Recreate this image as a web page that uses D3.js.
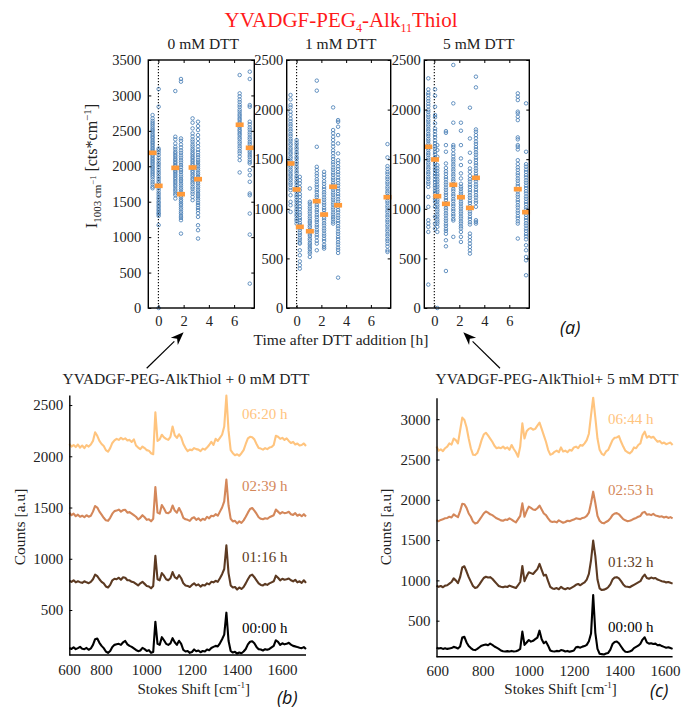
<!DOCTYPE html>
<html>
<head>
<meta charset="utf-8">
<script src="https://cdn.jsdelivr.net/npm/d3@7"></script>
<style>
  body { margin: 0; background: #fff; }
  svg { display: block; }
  text { font-family: 'Liberation Serif', 'Times New Roman', serif; }
</style>
</head>
<body>
<svg id="fig" width="684" height="711"></svg>
<script>
// ---------- panel (a): I(1003 cm^-1) versus time after DTT addition ----------
const dttLabels = ["0 mM DTT", "1 mM DTT", "5 mM DTT"];
const timeTicks = [0, 2, 4, 6];
const yTicks0 = [0, 500, 1000, 1500, 2000, 2500, 3000, 3500];
const yTicks12 = [0, 500, 1000, 1500, 2000, 2500];

// 0 mM DTT: measurement times [h], group means, single-spectrum intensities
const times0 = [-0.46, 0.02, 1.34, 1.79, 2.71, 3.14, 6.44, 7.24];
const means0 = [2190, 1724, 1978, 1606, 1983, 1818, 2586, 2261];
const points0 = [
  [2723, 2676, 2640, 2612, 2588, 2561, 2533, 2510, 2490, 2462, 2438, 2415, 2396, 2368, 2345, 2326, 2302, 2280, 2255, 2236, 2214, 2190, 2166, 2147, 2121, 2100, 2078, 2056, 2035, 2010, 1986, 1967, 1941, 1918, 1895, 1870, 1845, 1812, 1778, 1747, 1712, 1690],
  [3090, 2841, 2250, 2226, 2195, 2162, 2121, 2086, 2050, 2021, 1985, 1952, 1917, 1886, 1851, 1822, 1788, 1760, 1724, 1693, 1661, 1627, 1598, 1564, 1537, 1503, 1480, 1450, 1426, 1396, 1372, 1344, 1327, 1300, 1170, 0],
  [3062, 2417, 2379, 2322, 2275, 2242, 2208, 2186, 2158, 2136, 2108, 2090, 2064, 2045, 2020, 2001, 1976, 1957, 1932, 1914, 1888, 1867, 1840, 1819, 1790, 1766, 1736, 1712, 1678, 1652, 1618, 1592, 1545],
  [3232, 3194, 2393, 2360, 2308, 2266, 2224, 2191, 2153, 2122, 2084, 2053, 2016, 1987, 1948, 1920, 1883, 1854, 1818, 1792, 1758, 1731, 1698, 1672, 1640, 1617, 1586, 1562, 1530, 1507, 1476, 1452, 1418, 1392, 1358, 1332, 1298, 1272, 1239, 1050],
  [2676, 2615, 2535, 2464, 2421, 2378, 2347, 2308, 2280, 2246, 2222, 2190, 2167, 2138, 2117, 2088, 2066, 2038, 2017, 1988, 1966, 1938, 1917, 1886, 1862, 1830, 1807, 1773, 1747, 1710, 1682, 1643, 1612, 1568, 1522],
  [2629, 2568, 2511, 2440, 2386, 2328, 2282, 2233, 2197, 2158, 2127, 2090, 2062, 2028, 2002, 1968, 1942, 1908, 1882, 1848, 1822, 1788, 1762, 1728, 1702, 1668, 1642, 1608, 1582, 1548, 1520, 1483, 1452, 1413, 1382, 1338, 1286, 1168, 1098, 980],
  [3288, 3029, 2987, 2943, 2907, 2868, 2837, 2798, 2770, 2736, 2710, 2678, 2654, 2623, 2600, 2570, 2548, 2518, 2496, 2466, 2442, 2408, 2382, 2348, 2320, 2283, 2252, 2213, 2182, 2138, 2087, 1913],
  [3335, 3232, 2864, 2840, 2629, 2592, 2548, 2517, 2478, 2447, 2408, 2380, 2343, 2314, 2278, 2252, 2218, 2192, 2158, 2130, 2093, 2062, 2040, 1946, 1875, 1781, 1616, 1592, 1333, 1036, 344]
];

// 1 mM DTT
const times1 = [-0.49, 0.0, 0.26, 1.07, 1.63, 2.22, 2.95, 3.35, 7.34];
const means1 = [1457, 1195, 818, 774, 1077, 942, 1222, 1036, 1117];
const points1 = [
  [2147, 2103, 2046, 2022, 1979, 1946, 1908, 1882, 1853, 1832, 1803, 1782, 1753, 1732, 1704, 1684, 1658, 1640, 1614, 1596, 1570, 1552, 1526, 1508, 1482, 1464, 1438, 1420, 1394, 1376, 1350, 1332, 1306, 1288, 1262, 1242, 1213, 1188, 1137, 1070, 1036, 969],
  [1693, 1668, 1647, 1618, 1598, 1570, 1550, 1522, 1502, 1474, 1454, 1426, 1406, 1378, 1358, 1330, 1310, 1282, 1262, 1234, 1214, 1186, 1166, 1138, 1118, 1090, 1070, 1042, 1022, 994, 974, 946, 926, 898, 878, 851],
  [1322, 1288, 1257, 1218, 1187, 1148, 1120, 1084, 1057, 1023, 997, 963, 940, 908, 887, 858, 837, 808, 787, 758, 737, 708, 688, 660, 649, 582, 532, 470, 431, 397],
  [1205, 1070, 1052, 1023, 1002, 973, 952, 923, 902, 876, 858, 832, 814, 788, 770, 744, 726, 700, 682, 656, 638, 612, 594, 568, 550, 515],
  [2292, 2191, 1625, 1423, 1392, 1358, 1332, 1298, 1274, 1243, 1220, 1190, 1168, 1138, 1117, 1088, 1067, 1038, 1017, 988, 967, 938, 917, 888, 867, 838, 817, 788, 767, 738, 714, 678, 649, 582],
  [1373, 1343, 1314, 1278, 1252, 1220, 1197, 1166, 1144, 1114, 1092, 1062, 1040, 1010, 988, 958, 936, 906, 884, 854, 832, 802, 780, 750, 728, 698, 674, 638, 616, 599],
  [2022, 1794, 1762, 1726, 1693, 1658, 1627, 1590, 1562, 1528, 1502, 1470, 1447, 1416, 1394, 1364, 1342, 1313, 1292, 1263, 1242, 1213, 1192, 1163, 1142, 1113, 1092, 1063, 1042, 1013, 992, 963, 942, 916, 895, 870, 851],
  [1894, 1877, 1827, 1743, 1659, 1558, 1490, 1462, 1428, 1402, 1370, 1346, 1314, 1290, 1258, 1234, 1203, 1180, 1149, 1126, 1095, 1072, 1041, 1018, 987, 964, 933, 910, 879, 856, 825, 802, 771, 748, 717, 694, 663, 640, 609, 586, 555, 306],
  [1652, 1518, 1430, 1402, 1371, 1350, 1321, 1300, 1272, 1252, 1224, 1204, 1176, 1156, 1128, 1108, 1080, 1060, 1032, 1012, 984, 964, 936, 916, 888, 868, 840, 820, 792, 772, 744, 724, 696, 676, 648, 620, 582, 565]
];

// 5 mM DTT
const times5 = [-0.48, 0.06, 0.24, 0.93, 1.52, 2.13, 2.85, 3.33, 6.68, 7.34];
const means5 = [1625, 1497, 1127, 1050, 1242, 1117, 1009, 1312, 1198, 966];
const points5 = [
  [2315, 2204, 2168, 2147, 2113, 2087, 2058, 2032, 1998, 1977, 1948, 1927, 1898, 1878, 1850, 1830, 1802, 1782, 1754, 1734, 1706, 1686, 1658, 1638, 1610, 1590, 1562, 1542, 1514, 1494, 1466, 1446, 1418, 1398, 1370, 1350, 1322, 1302, 1273, 1252, 1221, 1120, 1020, 885, 851, 818, 767, 236],
  [2204, 2140, 2029, 1945, 1923, 1862, 1808, 1782, 1748, 1722, 1688, 1662, 1630, 1606, 1574, 1550, 1518, 1494, 1462, 1438, 1406, 1382, 1350, 1326, 1294, 1270, 1238, 1214, 1182, 1158, 1126, 1102, 1070, 1020, 920, 851, 800],
  [1642, 1592, 1525, 1440, 1408, 1382, 1350, 1327, 1296, 1274, 1244, 1222, 1193, 1172, 1143, 1122, 1093, 1072, 1043, 1022, 993, 972, 943, 922, 893, 872, 851, 818, 767, 0],
  [1783, 1766, 1642, 1575, 1457, 1412, 1378, 1352, 1320, 1297, 1266, 1244, 1214, 1192, 1162, 1140, 1110, 1088, 1058, 1036, 1006, 984, 954, 932, 902, 880, 850, 828, 798, 777, 748, 683, 622, 373],
  [2450, 2063, 1868, 1642, 1623, 1594, 1556, 1527, 1498, 1477, 1448, 1427, 1398, 1377, 1348, 1327, 1298, 1277, 1248, 1227, 1198, 1177, 1148, 1127, 1098, 1077, 1048, 1027, 998, 977, 948, 927, 898, 882, 717],
  [1868, 1787, 1642, 1508, 1441, 1357, 1306, 1252, 1223, 1202, 1173, 1152, 1123, 1102, 1073, 1052, 1023, 1002, 973, 952, 923, 902, 873, 852, 823, 802, 767, 717, 666],
  [2019, 1709, 1565, 1474, 1407, 1373, 1332, 1298, 1274, 1243, 1220, 1189, 1166, 1135, 1112, 1081, 1058, 1027, 1004, 973, 950, 919, 896, 865, 842, 750, 717, 683, 649, 616, 582, 548],
  [2332, 2224, 1800, 1777, 1743, 1712, 1678, 1654, 1623, 1600, 1569, 1546, 1515, 1492, 1461, 1438, 1407, 1384, 1353, 1330, 1299, 1276, 1245, 1222, 1191, 1168, 1137, 1114, 1083, 1060, 1020, 885, 868, 851],
  [2164, 2130, 2096, 1979, 1962, 1928, 1894, 1720, 1700, 1642, 1625, 1598, 1490, 1452, 1418, 1392, 1360, 1337, 1306, 1283, 1252, 1229, 1198, 1175, 1144, 1121, 1090, 1067, 1036, 1013, 982, 959, 928, 905, 874, 851, 700],
  [2063, 1575, 1450, 1425, 1394, 1371, 1340, 1317, 1286, 1263, 1232, 1209, 1178, 1155, 1124, 1101, 1070, 1047, 1016, 993, 962, 939, 908, 885, 854, 831, 800, 777, 746, 723, 692, 633, 582, 515, 481, 330]
];

// ---------- panels (b) and (c): Raman spectra ----------
const shift = [
  600, 610, 620, 630, 640, 650, 660, 670, 680, 690,
  700, 710, 720, 730, 740, 750, 760, 770, 780, 790,
  800, 810, 820, 830, 840, 850, 860, 870, 880, 890,
  900, 910, 920, 930, 940, 950, 960, 970, 980, 990,
  1000, 1010, 1020, 1030, 1040, 1050, 1060, 1070, 1080, 1090,
  1100, 1110, 1120, 1130, 1140, 1150, 1160, 1170, 1180, 1190,
  1200, 1210, 1220, 1230, 1240, 1250, 1260, 1270, 1280, 1290,
  1300, 1310, 1320, 1330, 1340, 1350, 1360, 1370, 1380, 1390,
  1400, 1410, 1420, 1430, 1440, 1450, 1460, 1470, 1480, 1490,
  1500, 1510, 1520, 1530, 1540, 1550, 1560, 1570, 1580, 1590,
  1600, 1610, 1620, 1630, 1640, 1650, 1660, 1670, 1680, 1690,
  1700
];
const shiftTicks = [600, 800, 1000, 1200, 1400, 1600];
const countTicksB = [500, 1000, 1500, 2000, 2500];
const countTicksC = [500, 1000, 1500, 2000, 2500, 3000];

const timesB = ["00:00 h", "01:16 h", "02:39 h", "06:20 h"];
const timesC = ["00:00 h", "01:32 h", "02:53 h", "06:44 h"];
const lineColors = ["#000000", "#5c3a22", "#d4875a", "#ffc47e"];

const specB0 = [
  130,120,135,118,128,140,122,118,130,112,
  125,160,215,222,180,150,128,95,82,100,
  140,160,165,170,160,185,198,165,150,140,
  125,110,98,105,130,118,100,108,82,90,
  386,170,160,235,205,170,160,175,225,185,
  160,200,170,110,95,100,82,90,115,98,
  105,88,100,95,115,108,130,140,150,145,
  175,215,260,474,200,100,85,92,75,85,
  78,95,120,165,190,195,175,140,118,115,
  105,118,112,120,135,150,205,190,160,175,
  165,170,180,162,150,145,138,132,128,138,
  120];
const specB1 = [
  785,775,790,770,780,772,765,780,770,762,
  775,800,845,830,800,775,760,730,720,745,
  790,805,800,815,795,820,815,790,790,775,
  770,755,740,760,775,755,735,730,712,735,
  1028,800,790,860,835,800,790,810,870,820,
  805,840,810,760,740,735,725,745,760,740,
  750,728,745,740,760,750,775,770,785,775,
  810,850,900,1132,860,740,720,725,700,720,
  705,725,760,800,835,845,820,790,760,745,
  740,755,745,760,770,780,835,815,790,805,
  795,800,808,790,780,795,770,780,765,790,
  765];
const specB2 = [
  1450,1425,1440,1415,1430,1410,1420,1405,1425,1410,
  1420,1460,1515,1500,1460,1430,1400,1375,1370,1400,
  1440,1465,1470,1480,1460,1475,1478,1450,1455,1440,
  1425,1410,1385,1400,1425,1405,1380,1385,1365,1390,
  1700,1450,1440,1525,1490,1450,1445,1460,1520,1470,
  1450,1495,1455,1400,1385,1380,1370,1395,1405,1380,
  1395,1372,1390,1380,1410,1395,1420,1415,1435,1420,
  1460,1500,1560,1772,1520,1390,1365,1370,1345,1365,
  1350,1375,1410,1450,1485,1495,1470,1440,1405,1390,
  1385,1395,1390,1405,1415,1425,1480,1460,1440,1455,
  1445,1450,1458,1435,1428,1445,1420,1432,1415,1435,
  1412];
const specB3 = [
  2120,2095,2110,2090,2115,2085,2105,2080,2110,2095,
  2115,2150,2235,2200,2150,2120,2100,2060,2045,2080,
  2130,2155,2170,2160,2180,2165,2175,2155,2160,2140,
  2165,2105,2085,2070,2095,2080,2060,2055,2030,2020,
  2430,2150,2165,2210,2185,2170,2160,2190,2290,2205,
  2180,2215,2185,2120,2080,2050,2065,2060,2080,2070,
  2065,2050,2075,2065,2085,2110,2140,2110,2170,2150,
  2180,2210,2290,2592,2250,2060,2030,2010,2020,2005,
  2030,2060,2120,2175,2190,2185,2165,2120,2080,2075,
  2065,2080,2070,2085,2090,2110,2200,2190,2170,2180,
  2160,2175,2150,2130,2140,2115,2125,2105,2110,2125,
  2100];

const specC0 = [
  165,155,160,150,158,150,155,160,175,168,
  155,180,290,300,230,185,160,140,135,150,
  170,190,198,205,195,215,200,180,165,150,
  130,120,118,122,118,125,118,120,130,150,
  364,200,230,260,240,250,270,290,376,270,
  220,240,190,130,120,118,125,120,135,130,
  118,125,115,122,130,170,175,165,178,185,
  200,245,340,819,350,150,90,85,80,92,
  100,140,210,235,242,220,180,140,115,112,
  118,130,160,175,190,215,265,294,230,215,
  220,210,215,195,200,185,175,165,170,160,
  150];
const specC1 = [
  935,920,930,915,935,940,960,980,1025,1000,
  965,1040,1160,1175,1110,1040,985,930,905,915,
  950,990,1030,1045,1035,1040,1020,990,960,930,
  920,915,925,918,935,925,915,905,940,980,
  1179,990,1050,1100,1090,1080,1110,1140,1204,1130,
  1060,1070,990,920,900,895,905,890,920,900,
  890,905,895,910,925,945,955,940,960,975,
  1010,1080,1250,1493,1300,1010,900,880,885,895,
  915,950,1010,1035,1040,1025,990,950,925,920,
  915,930,945,960,975,990,1040,1071,1030,1020,
  1035,1025,1030,1010,1000,990,985,975,980,970,
  960];
const specC2 = [
  1745,1735,1750,1760,1770,1775,1790,1780,1820,1800,
  1785,1860,1950,1945,1900,1830,1790,1730,1705,1715,
  1750,1790,1830,1855,1840,1820,1810,1790,1770,1760,
  1745,1740,1755,1750,1770,1755,1735,1720,1760,1800,
  1956,1790,1860,1915,1900,1880,1875,1895,1928,1880,
  1830,1810,1770,1735,1725,1730,1720,1745,1730,1715,
  1725,1740,1735,1745,1755,1770,1765,1760,1775,1780,
  1800,1840,1960,2101,1960,1800,1740,1715,1708,1725,
  1740,1770,1810,1830,1835,1820,1790,1760,1745,1735,
  1740,1750,1765,1775,1790,1800,1840,1850,1815,1820,
  1810,1825,1805,1800,1790,1795,1780,1790,1775,1785,
  1770];
const specC3 = [
  2660,2610,2625,2605,2640,2660,2700,2685,2760,2740,
  2700,2860,3020,2990,2900,2760,2640,2560,2555,2580,
  2650,2740,2810,2832,2800,2760,2720,2670,2640,2650,
  2640,2660,2635,2650,2620,2680,2630,2590,2535,2660,
  2949,2760,2850,2880,2890,2870,2880,2920,2957,2880,
  2800,2720,2620,2560,2570,2595,2610,2590,2650,2600,
  2610,2590,2620,2610,2650,2660,2640,2680,2670,2700,
  2740,2820,3050,3267,3020,2760,2620,2570,2555,2600,
  2620,2680,2740,2770,2774,2790,2720,2660,2610,2590,
  2576,2600,2650,2640,2680,2700,2800,2845,2770,2790,
  2770,2783,2750,2720,2730,2700,2710,2690,2700,2710,
  2680];

// ---------- drawing ----------
const SERIF = "'Liberation Serif', 'Times New Roman', serif";
const svg = d3.select("#fig");
const intFmt = d3.format("d");

// Figure title
const title = svg.append("text")
  .attr("x", 341).attr("y", 27).attr("text-anchor", "middle")
  .attr("fill", "#ff1a1a").attr("font-size", 21);
title.append("tspan").text("YVADGF-PEG");
title.append("tspan").attr("font-size", 12).attr("dy", 5).text("4");
title.append("tspan").attr("dy", -5).text("-Alk");
title.append("tspan").attr("font-size", 12).attr("dy", 5).text("11");
title.append("tspan").attr("dy", -5).text("Thiol");

// restyle a d3 axis group: serif labels, black ticks
function styleAxis(sel, size) {
  sel.attr("font-family", SERIF).attr("font-size", size);
  sel.selectAll(".tick line").attr("stroke", "#000").attr("stroke-width", 1);
  sel.selectAll(".tick text").style("font-family", SERIF).attr("font-size", size).attr("fill", "#222");
}

// Scatter panels
const plotTop = 60, plotBottom = 308;
const panels = [
  { x0: 148.3, x1: 254.3, ymax: 3500, ticks: yTicks0, times: times0, means: means0, pts: points0, label: dttLabels[0] },
  { x0: 286.7, x1: 390.7, ymax: 2500, ticks: yTicks12, times: times1, means: means1, pts: points1, label: dttLabels[1] },
  { x0: 424.3, x1: 529.3, ymax: 2500, ticks: yTicks12, times: times5, means: means5, pts: points5, label: dttLabels[2] }
];
const scatterX = [];

panels.forEach((p, pi) => {
  const x = d3.scaleLinear().domain([-0.8, 7.6]).range([p.x0, p.x1]);
  const y = d3.scaleLinear().domain([0, p.ymax]).range([plotBottom, plotTop]);
  scatterX.push(x);
  const g = svg.append("g");

  // dotted line at the time of DTT addition
  g.append("line")
    .attr("x1", x(0)).attr("x2", x(0)).attr("y1", plotTop).attr("y2", plotBottom)
    .attr("stroke", "#000").attr("stroke-width", 1.1).attr("stroke-dasharray", "1.2,1.8");

  // individual spectra intensities
  p.pts.forEach((vals, gi) => {
    g.selectAll(null).data(vals).enter().append("circle")
      .attr("cx", x(p.times[gi])).attr("cy", d => y(d)).attr("r", 1.75)
      .attr("fill", "none").attr("stroke", "#4a7fb6").attr("stroke-width", 0.85);
  });

  // group means
  g.selectAll(null).data(p.means).enter().append("rect")
    .attr("x", (d, i) => x(p.times[i]) - 4).attr("y", d => y(d) - 2.3)
    .attr("width", 8).attr("height", 4.6).attr("fill", "#ff9a3a");

  // axes with inward ticks on all four sides
  const tickStyle = sel => { sel.select(".domain").remove(); styleAxis(sel, 14.5); };
  svg.append("g").attr("transform", `translate(${p.x0},0)`)
    .call(d3.axisLeft(y).tickValues(p.ticks).tickFormat(intFmt).tickSize(-3).tickPadding(pi === 0 ? 7 : 3.5))
    .call(tickStyle);
  svg.append("g").attr("transform", `translate(${p.x1},0)`)
    .call(d3.axisRight(y).tickValues(p.ticks).tickSize(-3).tickFormat(""))
    .call(tickStyle);
  svg.append("g").attr("transform", `translate(0,${plotBottom})`)
    .call(d3.axisBottom(x).tickValues(timeTicks).tickFormat(intFmt).tickSize(-3).tickPadding(8))
    .call(tickStyle);
  svg.append("g").attr("transform", `translate(0,${plotTop})`)
    .call(d3.axisTop(x).tickValues(timeTicks).tickSize(-3).tickFormat(""))
    .call(tickStyle);

  svg.append("rect")
    .attr("x", p.x0).attr("y", plotTop).attr("width", p.x1 - p.x0).attr("height", plotBottom - plotTop)
    .attr("fill", "none").attr("stroke", "#000").attr("stroke-width", 1.4);

  svg.append("text")
    .attr("x", (p.x0 + p.x1) / 2 + 2).attr("y", 49).attr("text-anchor", "middle")
    .attr("font-size", 15.5).attr("fill", "#222").text(p.label);
});

// y label of panel (a)
const ylab = svg.append("text")
  .attr("transform", "translate(97,166) rotate(-90)")
  .attr("text-anchor", "middle").attr("font-size", 16).attr("fill", "#222");
ylab.append("tspan").text("I");
ylab.append("tspan").attr("font-size", 11).attr("dy", 4).text("1003 cm");
ylab.append("tspan").attr("font-size", 8.5).attr("dy", -5).text("\u22121");
ylab.append("tspan").attr("dy", 1).text(" [cts*cm");
ylab.append("tspan").attr("font-size", 11).attr("dy", -6).text("\u22121");
ylab.append("tspan").attr("dy", 6).text("]");

svg.append("text")
  .attr("x", 341).attr("y", 345).attr("text-anchor", "middle")
  .attr("font-size", 15.5).attr("fill", "#222").text("Time after DTT addition [h]");

// Spectra panels
const specPanels = [
  { x0: 69.3, x1: 306, y0: 655, y1: 395, ydom: [61, 2598], yticks: countTicksB,
    labX: d3.scaleLinear().domain([600, 800, 1600]).range([69, 101, 282]),
    series: [specB0, specB1, specB2, specB3], times: timesB,
    labelX: 242, labelY: [633, 562, 491, 419],
    title: "YVADGF-PEG-AlkThiol + 0 mM DTT", titleX: 186, yLabX: 19, tag: "(b)", tagX: 277, tagY: 704 },
  { x0: 436.5, x1: 672.6, y0: 656.7, y1: 397.7, ydom: [53, 3267], yticks: countTicksC,
    labX: d3.scaleLinear().domain([600, 1600]).range([437.3, 665]),
    series: [specC0, specC1, specC2, specC3], times: timesC,
    labelX: 608, labelY: [632, 567, 495, 424],
    title: "YVADGF-PEG-AlkThiol+ 5 mM DTT", titleX: 557, yLabX: 385, tag: "(c)", tagX: 650, tagY: 697 }
];

specPanels.forEach(sp => {
  const x = d3.scaleLinear().domain([600, 1700]).range([sp.x0, sp.x1]);
  const y = d3.scaleLinear().domain(sp.ydom).range([sp.y0, sp.y1]);
  const line = d3.line().x((d, i) => x(shift[i])).y(d => y(d));

  sp.series.forEach((s, k) => {
    svg.append("path").datum(s).attr("d", line)
      .attr("fill", "none").attr("stroke", lineColors[k]).attr("stroke-width", 2.1)
      .attr("stroke-linejoin", "round");
    svg.append("text").attr("x", sp.labelX).attr("y", sp.labelY[k])
      .attr("font-size", 15).attr("fill", lineColors[k]).text(sp.times[k]);
  });

  // y axis
  const ya = svg.append("g").attr("transform", `translate(${sp.x0},0)`)
    .call(d3.axisLeft(y).tickValues(sp.yticks).tickFormat(intFmt).tickSize(-3).tickSizeOuter(0).tickPadding(6));
  ya.select(".domain").attr("stroke", "#000").attr("stroke-width", 1.4);
  styleAxis(ya, 15);

  // x axis line and shift labels
  svg.append("line").attr("x1", sp.x0).attr("x2", sp.x1).attr("y1", sp.y0).attr("y2", sp.y0)
    .attr("stroke", "#000").attr("stroke-width", 1.4);
  const xa = svg.append("g").attr("transform", `translate(0,${sp.y0})`)
    .call(d3.axisBottom(sp.labX).tickValues(shiftTicks).tickFormat(intFmt).tickSize(0).tickPadding(9));
  xa.select(".domain").remove();
  styleAxis(xa, 15);

  // labels
  svg.append("text").attr("x", sp.titleX).attr("y", 384).attr("text-anchor", "middle")
    .attr("font-size", 15.5).attr("fill", "#222").text(sp.title);
  svg.append("text").attr("transform", `translate(${sp.yLabX + 6},527) rotate(-90)`)
    .attr("text-anchor", "middle").attr("font-size", 15.5).attr("fill", "#222").text("Counts [a.u]");
  const xl = svg.append("text").attr("x", (sp.x0 + sp.x1) / 2 + 6).attr("y", 694)
    .attr("text-anchor", "middle").attr("font-size", 15).attr("fill", "#222");
  xl.append("tspan").text("Stokes Shift [cm");
  xl.append("tspan").attr("font-size", 9).attr("dy", -6).text("-1");
  xl.append("tspan").attr("dy", 6).text("]");

  svg.append("text").attr("x", sp.tagX).attr("y", sp.tagY)
    .style("font-family", "'Open Sans', sans-serif").attr("font-style", "italic")
    .attr("font-size", 18).attr("fill", "#111").text(sp.tag);
});

svg.append("text").attr("x", 560).attr("y", 334)
  .style("font-family", "'Open Sans', sans-serif").attr("font-style", "italic")
  .attr("font-size", 18).attr("fill", "#111").text("(a)");

// arrows linking spectra to the scatter panels
function arrow(x1, y1, x2, y2) {
  const ang = Math.atan2(y2 - y1, x2 - x1);
  const L = 13, Wd = 5;
  const bx = x2 - L * Math.cos(ang), by = y2 - L * Math.sin(ang);
  const nx = -Math.sin(ang), ny = Math.cos(ang);
  svg.append("line").attr("x1", x1).attr("y1", y1).attr("x2", bx).attr("y2", by)
    .attr("stroke", "#000").attr("stroke-width", 1.2);
  const ix = x2 - 0.7 * L * Math.cos(ang), iy = y2 - 0.7 * L * Math.sin(ang);
  svg.append("path")
    .attr("d", `M${x2},${y2} L${bx + nx * Wd},${by + ny * Wd} L${ix},${iy} L${bx - nx * Wd},${by - ny * Wd} Z`)
    .attr("fill", "#000");
}
arrow(146.7, 368.3, scatterX[0](2), 332.3);
arrow(500, 368.3, 463.3, 332.3);
</script>
</body>
</html>
